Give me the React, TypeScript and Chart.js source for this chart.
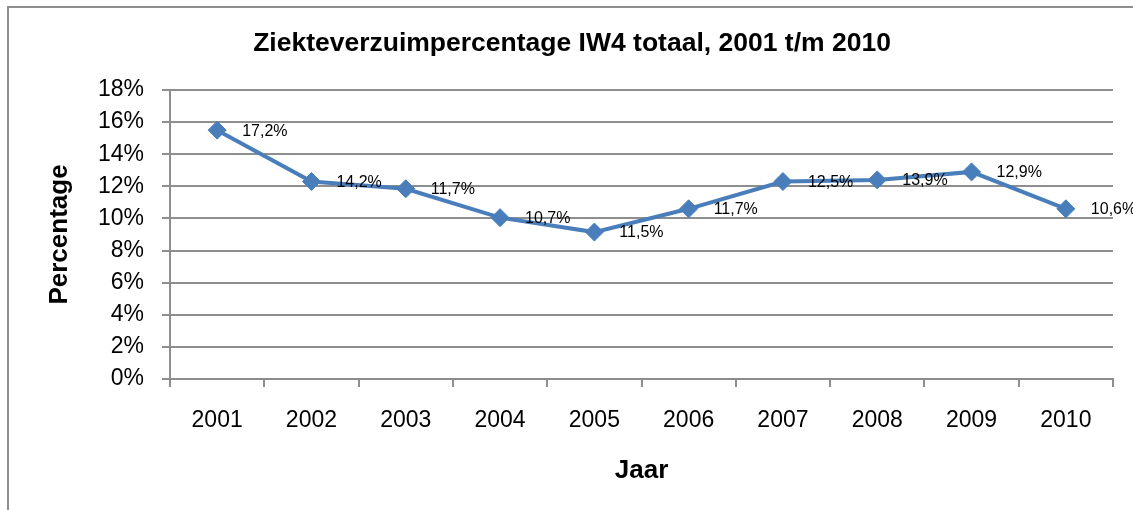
import React, { useEffect, useRef } from "react";
import { Chart, registerables } from "chart.js";

Chart.register(...registerables);

const years = ["2001", "2002", "2003", "2004", "2005", "2006", "2007", "2008", "2009", "2010"];
const percentages = [15.5, 12.3, 11.85, 10.05, 9.15, 10.6, 12.3, 12.4, 12.9, 10.6];
const pointLabels = ["17,2%", "14,2%", "11,7%", "10,7%", "11,5%", "11,7%", "12,5%", "13,9%", "12,9%", "10,6%"];
const titleText = "Ziekteverzuimpercentage IW4 totaal, 2001 t/m 2010";
const yTitle = "Percentage";
const xTitle = "Jaar";

const FONT = "'Liberation Sans', Arial, sans-serif";
const GRID = "#8e8e8e";
const BLUE = "#4a7ebb";

const framePlugin = {
  id: "frame",
  beforeDraw(chart: any) {
    const ctx = chart.ctx;
    ctx.save();
    ctx.fillStyle = "#ffffff";
    ctx.fillRect(0, 0, chart.width, chart.height);
    ctx.fillStyle = GRID;
    ctx.fillRect(7, 6, 2, chart.height - 6);
    ctx.fillRect(7, 6, chart.width - 7, 2);
    ctx.restore();
  },
};

const labelPlugin = {
  id: "pointTexts",
  afterDatasetsDraw(chart: any) {
    const ctx = chart.ctx;
    const meta = chart.getDatasetMeta(0);
    ctx.save();
    ctx.font = `16px ${FONT}`;
    ctx.fillStyle = "#000000";
    ctx.textAlign = "left";
    ctx.textBaseline = "middle";
    meta.data.forEach((pt: any, i: number) => {
      ctx.fillText(pointLabels[i], pt.x + 25, pt.y + 1);
    });
    ctx.restore();
  },
};

export default function App() {
  const ref = useRef<HTMLCanvasElement | null>(null);
  useEffect(() => {
    if (!ref.current) return;
    const chart = new Chart(ref.current, {
      type: "line",
      data: {
        labels: years,
        datasets: [
          {
            data: percentages,
            borderColor: BLUE,
            backgroundColor: BLUE,
            borderWidth: 4,
            pointStyle: "rectRot",
            pointRadius: 9,
            pointBorderWidth: 1,
            pointBorderColor: BLUE,
            pointBackgroundColor: BLUE,
            pointHoverRadius: 9,
            tension: 0,
          },
        ],
      },
      options: {
        responsive: false,
        animation: false,
        events: [],
        layout: { padding: { left: 31, right: 20, top: 0, bottom: 0 } },
        plugins: {
          legend: { display: false },
          tooltip: { enabled: false },
          title: {
            display: true,
            text: titleText,
            color: "#000000",
            font: { family: FONT, size: 26.5, weight: "bold", lineHeight: 1.2 },
            padding: { top: 28.1, bottom: 30.1 },
          },
        },
        scales: {
          x: {
            type: "category",
            offset: true,
            afterFit(scale: any) {
              scale.height = 131;
            },
            grid: {
              display: true,
              offset: true,
              drawOnChartArea: false,
              drawTicks: true,
              tickLength: 8,
              color: GRID,
              lineWidth: 2,
            },
            border: { display: true, color: GRID, width: 2 },
            ticks: {
              color: "#000000",
              font: { family: FONT, size: 23, lineHeight: 1.2 },
              padding: 20,
              maxRotation: 0,
              autoSkip: false,
            },
            title: {
              display: true,
              text: xTitle,
              color: "#000000",
              font: { family: FONT, size: 26, weight: "bold", lineHeight: 1.2 },
              padding: { top: 0, bottom: 24 },
            },
          },
          y: {
            type: "linear",
            min: 0,
            max: 18,
            afterFit(scale: any) {
              scale.width = 139;
            },
            grid: {
              display: true,
              drawTicks: true,
              tickLength: 8,
              color: GRID,
              lineWidth: 2,
            },
            border: { display: true, color: GRID, width: 2 },
            ticks: {
              stepSize: 2,
              color: "#000000",
              font: { family: FONT, size: 23, lineHeight: 1.2 },
              padding: 18,
              callback: (v: any) => `${v}%`,
            },
            title: {
              display: true,
              text: yTitle,
              color: "#000000",
              font: { family: FONT, size: 26, weight: "bold", lineHeight: 1.2 },
              padding: { top: 13.4, bottom: 0 },
            },
          },
        },
      },
      plugins: [framePlugin, labelPlugin],
    } as any);
    return () => chart.destroy();
  }, []);
  return (
    <div style={{ position: "fixed", left: 0, top: 0, width: 1133, height: 510 }}>
      <canvas ref={ref} width={1133} height={510} style={{ display: "block" }} />
    </div>
  );
}
